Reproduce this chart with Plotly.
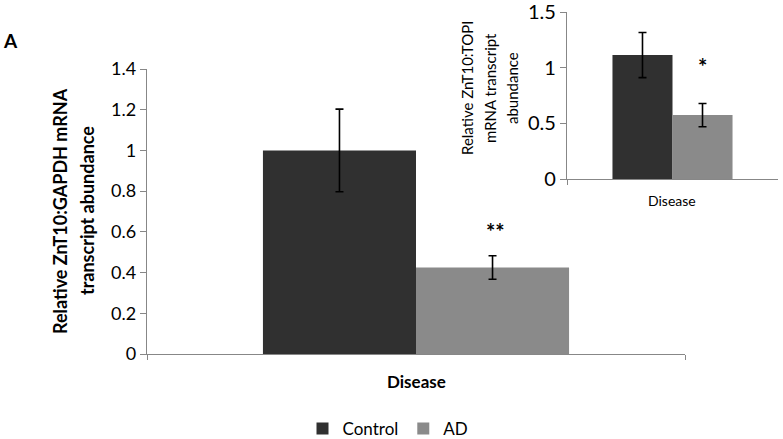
import plotly.graph_objects as go

categories = ["Disease"]
series_names = ["Control", "AD"]
main_values = [1.0, 0.425]
main_errors = [0.203, 0.058]
inset_values = [1.115, 0.575]
inset_errors = [0.203, 0.105]
main_ticks = [0, 0.2, 0.4, 0.6, 0.8, 1, 1.2, 1.4]
main_ticklabels = ["0", "0.2", "0.4", "0.6", "0.8", "1", "1.2", "1.4"]
inset_ticks = [0, 0.5, 1, 1.5]
inset_ticklabels = ["0", "0.5", "1", "1.5"]
main_title_lines = ["Relative ZnT10:GAPDH mRNA", "transcript abundance"]
inset_title_lines = ["Relative ZnT10:TOPI", "mRNA transcript", "abundance"]
colors = ["#303030", "#8a8a8a"]

FONT = "Lato, 'Open Sans', sans-serif"
W, H = 783, 439

def px(x):
    return x / W

def py(y):
    return (H - y) / H

fig = go.Figure()
for i, name in enumerate(series_names):
    fig.add_trace(go.Bar(
        x=categories, y=[main_values[i]], name=name,
        marker=dict(color=colors[i], line=dict(width=0)),
        error_y=dict(type="data", array=[main_errors[i]], color="black", thickness=1.6, width=4),
        xaxis="x", yaxis="y", showlegend=True,
    ))
for i, name in enumerate(series_names):
    fig.add_trace(go.Bar(
        x=categories, y=[inset_values[i]], name=name,
        marker=dict(color=colors[i], line=dict(width=0)),
        error_y=dict(type="data", array=[inset_errors[i]], color="black", thickness=1.6, width=4),
        xaxis="x2", yaxis="y2", showlegend=False,
    ))

axis_color = "#878787"
common = dict(showline=True, linecolor=axis_color, linewidth=1.3, ticks="outside", tickcolor=axis_color,
              showgrid=False, zeroline=False, automargin=False)
fig.update_layout(
    width=W, height=H,
    margin=dict(l=0, r=0, t=0, b=0, autoexpand=False),
    paper_bgcolor="white", plot_bgcolor="rgba(0,0,0,0)",
    barmode="group", bargap=0.431, bargroupgap=0,
    font=dict(family=FONT, color="black"),
    showlegend=True,
    legend=dict(orientation="h", x=px(388), xanchor="center", y=py(429), yanchor="middle",
                font=dict(size=17), itemwidth=30, tracegroupgap=0),
    xaxis=dict(domain=[px(147), px(685)], anchor="y", tickson="boundaries", ticklen=5,
               showticklabels=False, **common),
    yaxis=dict(domain=[py(354), py(69)], anchor="x", range=[0, 1.4], ticklen=6,
               tickvals=main_ticks, ticktext=main_ticklabels, tickfont=dict(size=18),
               ticklabeloverflow="allow", **common),
    xaxis2=dict(domain=[px(567), px(778)], anchor="y2", tickson="boundaries", ticklen=5,
                showticklabels=False, **common),
    yaxis2=dict(domain=[py(179), py(12.3)], anchor="x2", range=[0, 1.5], ticklen=6,
                tickvals=inset_ticks, ticktext=inset_ticklabels, tickfont=dict(size=20),
                ticklabeloverflow="allow", **common),
)

ann = [
    dict(text="<b>A</b>", x=px(10.5), y=py(40), font=dict(size=19)),
    dict(text="<b>Disease</b>", x=px(416), y=py(381), font=dict(size=17)),
    dict(text="Disease", x=px(672), y=py(200), font=dict(size=14)),
    dict(text="<b>**</b>", x=0.148, y=0.60, xref="x", yref="y", font=dict(size=22)),
    dict(text="<b>*</b>", x=0.14, y=1.01, xref="x2", yref="y2", font=dict(size=22)),
]
for line, xc in zip(main_title_lines, [60, 87]):
    ann.append(dict(text="<b>" + line + "</b>", x=px(xc), y=py(211), textangle=-90, font=dict(size=18)))
for line, xc in zip(inset_title_lines, [467, 490, 512]):
    ann.append(dict(text=line, x=px(xc), y=py(88), textangle=-90, font=dict(size=15)))
for a in ann:
    a.setdefault("xref", "paper")
    a.setdefault("yref", "paper")
    a["xanchor"] = "center"
    a["yanchor"] = "middle"
    a["showarrow"] = False
fig.update_layout(annotations=ann)

fig.write_html("out.html", config={"displayModeBar": False},
               post_script="document.body.style.margin='0';document.body.style.padding='0';")
